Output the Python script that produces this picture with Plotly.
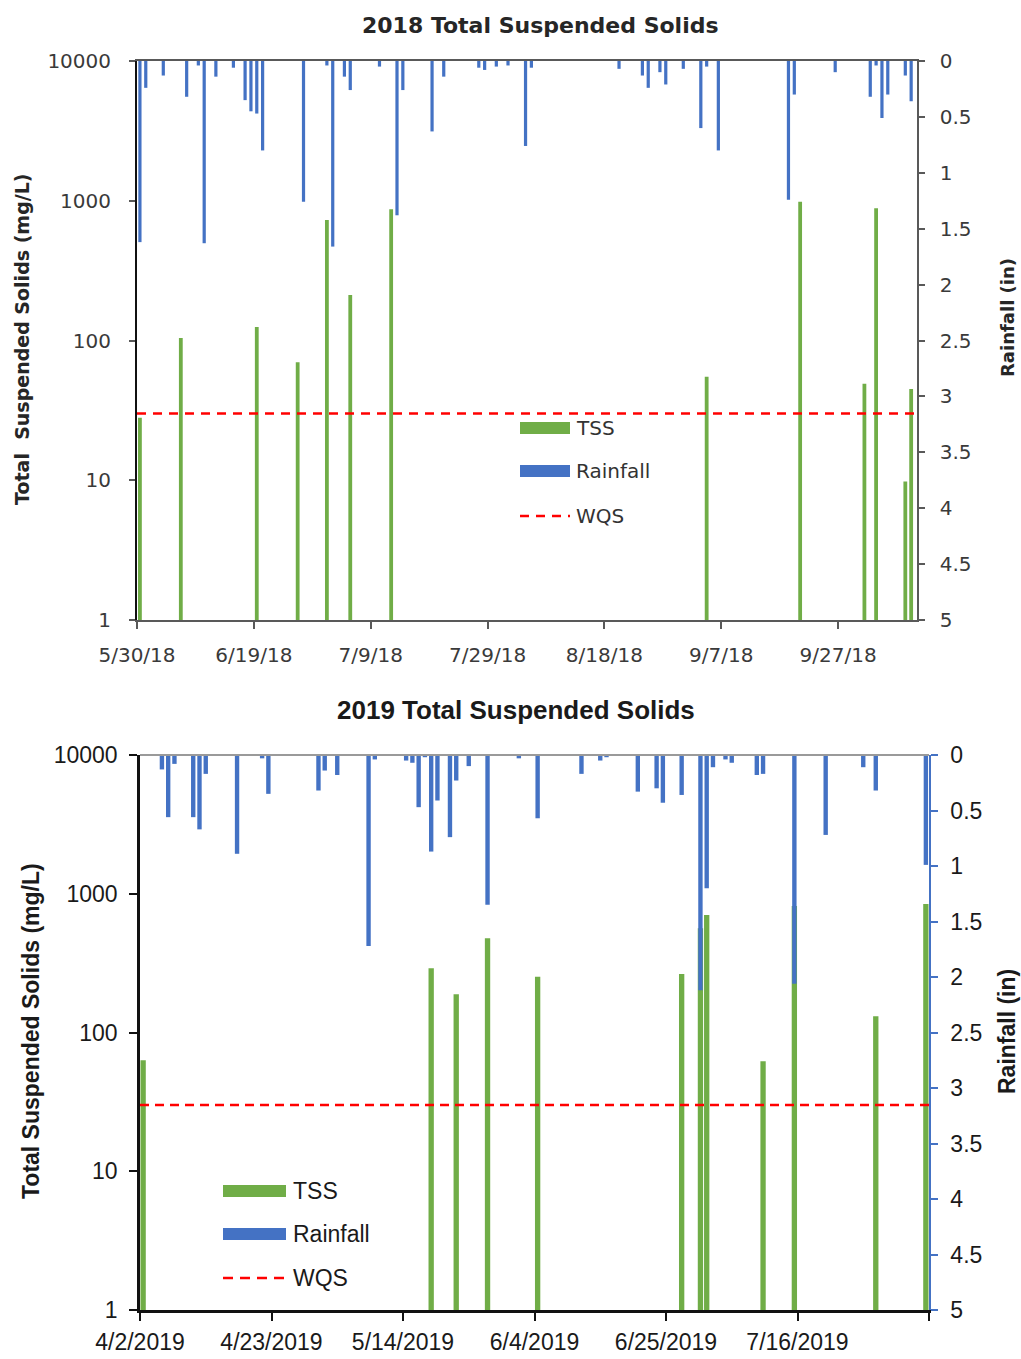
import plotly.graph_objects as go

W, H = 1021, 1359


def px(x):
    return x / W


def py(y):
    return 1 - y / H


GREEN = "#70AD47"
BLUE = "#4472C4"
RED = "#FF0000"
DAY_MS = 86400000

# ---------------- 2018 season ----------------
TSS_2018_DATES = [
    "2018-05-30", "2018-06-06", "2018-06-19", "2018-06-26", "2018-07-01",
    "2018-07-05", "2018-07-12", "2018-09-04", "2018-09-20", "2018-10-01",
    "2018-10-03", "2018-10-08", "2018-10-09",
]
TSS_2018_MGL = [28, 104, 125, 70, 728, 212, 868, 55, 985, 49, 883, 9.8, 45]

RAIN_2018_DATES = [
    "2018-05-30", "2018-05-31", "2018-06-03", "2018-06-07", "2018-06-09",
    "2018-06-10", "2018-06-12", "2018-06-15", "2018-06-17", "2018-06-18",
    "2018-06-19", "2018-06-20", "2018-06-27", "2018-07-01", "2018-07-02",
    "2018-07-04", "2018-07-05", "2018-07-10", "2018-07-13", "2018-07-14",
    "2018-07-19", "2018-07-21", "2018-07-27", "2018-07-28", "2018-07-30",
    "2018-08-01", "2018-08-04", "2018-08-05", "2018-08-20", "2018-08-24",
    "2018-08-25", "2018-08-27", "2018-08-28", "2018-08-31", "2018-09-03",
    "2018-09-04", "2018-09-06", "2018-09-18", "2018-09-19", "2018-09-26",
    "2018-10-02", "2018-10-03", "2018-10-04", "2018-10-05", "2018-10-08",
    "2018-10-09",
]
RAIN_2018_IN = [
    1.62, 0.24, 0.13, 0.32, 0.04,
    1.63, 0.14, 0.06, 0.35, 0.45,
    0.47, 0.80, 1.26, 0.04, 1.66,
    0.14, 0.26, 0.05, 1.38, 0.26,
    0.63, 0.14, 0.06, 0.08, 0.05,
    0.04, 0.76, 0.06, 0.07, 0.13,
    0.24, 0.10, 0.21, 0.07, 0.60,
    0.05, 0.80, 1.24, 0.30, 0.10,
    0.32, 0.04, 0.51, 0.30, 0.13,
    0.36,
]

X2018_RANGE = ["2018-05-30", "2018-10-10 12:00"]
X2018_TICKS = ["2018-05-30", "2018-06-19", "2018-07-09", "2018-07-29",
               "2018-08-18", "2018-09-07", "2018-09-27"]
X2018_LABELS = ["5/30/18", "6/19/18", "7/9/18", "7/29/18",
                "8/18/18", "9/7/18", "9/27/18"]

# ---------------- 2019 season ----------------
TSS_2019_DATES = [
    "2019-04-02", "2019-05-18", "2019-05-22", "2019-05-27", "2019-06-04",
    "2019-06-27", "2019-06-30", "2019-07-01", "2019-07-10", "2019-07-15",
    "2019-07-28", "2019-08-05",
]
TSS_2019_MGL = [63, 290, 189, 477, 252, 264, 563, 703, 62, 816, 131, 844]

RAIN_2019_DATES = [
    "2019-04-05", "2019-04-06", "2019-04-07", "2019-04-10", "2019-04-11",
    "2019-04-12", "2019-04-17", "2019-04-21", "2019-04-22", "2019-04-30",
    "2019-05-01", "2019-05-03", "2019-05-08", "2019-05-09", "2019-05-14",
    "2019-05-15", "2019-05-16", "2019-05-17", "2019-05-18", "2019-05-19",
    "2019-05-21", "2019-05-22", "2019-05-24", "2019-05-27", "2019-06-01",
    "2019-06-04", "2019-06-11", "2019-06-14", "2019-06-15", "2019-06-20",
    "2019-06-23", "2019-06-24", "2019-06-27", "2019-06-30", "2019-07-01",
    "2019-07-02", "2019-07-04", "2019-07-05", "2019-07-09", "2019-07-10",
    "2019-07-15", "2019-07-20", "2019-07-26", "2019-07-28", "2019-08-05",
]
RAIN_2019_IN = [
    0.13, 0.56, 0.08, 0.56, 0.67,
    0.17, 0.89, 0.03, 0.35, 0.32,
    0.14, 0.18, 1.72, 0.04, 0.05,
    0.07, 0.47, 0.02, 0.87, 0.41,
    0.74, 0.23, 0.10, 1.35, 0.03,
    0.57, 0.17, 0.05, 0.02, 0.33,
    0.30, 0.43, 0.36, 2.12, 1.20,
    0.11, 0.04, 0.07, 0.18, 0.17,
    2.06, 0.72, 0.11, 0.32, 0.99,
]

X2019_RANGE = ["2019-04-02", "2019-08-06"]
X2019_TICKS = ["2019-04-02", "2019-04-23", "2019-05-14", "2019-06-04",
               "2019-06-25", "2019-07-16", "2019-08-06"]
X2019_LABELS = ["4/2/2019", "4/23/2019", "5/14/2019", "6/4/2019",
                "6/25/2019", "7/16/2019", ""]

# water quality standard for TSS (mg/L)
WQS_MGL = 30

LOG_TICKS = [1, 10, 100, 1000, 10000]
LOG_LABELS = ["1", "10", "100", "1000", "10000"]
RAIN_TICKS = [0, 0.5, 1, 1.5, 2, 2.5, 3, 3.5, 4, 4.5, 5]
RAIN_LABELS = ["0", "0.5", "1", "1.5", "2", "2.5", "3", "3.5", "4", "4.5", "5"]

TOP_FONT = "DejaVu Sans"
BOT_FONT = "Liberation Sans, Arial"

fig = go.Figure()

# ---- 2018 panel ----
fig.add_trace(go.Bar(
    x=TSS_2018_DATES, y=TSS_2018_MGL, xaxis="x", yaxis="y",
    marker=dict(color=GREEN, line=dict(width=0)),
    width=0.65 * DAY_MS, xperiod=DAY_MS, xperiodalignment="middle",
    name="TSS", showlegend=False,
))
fig.add_trace(go.Scatter(
    x=X2018_RANGE, y=[WQS_MGL, WQS_MGL], xaxis="x", yaxis="y",
    mode="lines", line=dict(color=RED, width=2.5, dash="9px,7px"),
    name="WQS", showlegend=False,
))
fig.add_trace(go.Bar(
    x=RAIN_2018_DATES, y=RAIN_2018_IN, xaxis="x", yaxis="y2",
    marker=dict(color=BLUE, line=dict(width=0)),
    width=0.55 * DAY_MS, xperiod=DAY_MS, xperiodalignment="middle",
    name="Rainfall", showlegend=False,
))

# ---- 2019 panel ----
fig.add_trace(go.Bar(
    x=TSS_2019_DATES, y=TSS_2019_MGL, xaxis="x2", yaxis="y3",
    marker=dict(color=GREEN, line=dict(width=0)),
    width=0.85 * DAY_MS, xperiod=DAY_MS, xperiodalignment="middle",
    name="TSS", showlegend=False,
))
fig.add_trace(go.Scatter(
    x=X2019_RANGE, y=[WQS_MGL, WQS_MGL], xaxis="x2", yaxis="y3",
    mode="lines", line=dict(color=RED, width=2.5, dash="9px,6px"),
    name="WQS", showlegend=False,
))
fig.add_trace(go.Bar(
    x=RAIN_2019_DATES, y=RAIN_2019_IN, xaxis="x2", yaxis="y4",
    marker=dict(color=BLUE, line=dict(width=0)),
    width=0.7 * DAY_MS, xperiod=DAY_MS, xperiodalignment="middle",
    name="Rainfall", showlegend=False,
))

top_tick_font = dict(family=TOP_FONT, size=20, color="#3a3a3a")
bot_tick_font = dict(family=BOT_FONT, size=23, color="#1a1a1a")

fig.update_layout(
    template="none",
    width=W, height=H,
    margin=dict(l=0, r=0, t=0, b=0, autoexpand=False),
    paper_bgcolor="white", plot_bgcolor="white",
    barmode="overlay", showlegend=False,
    xaxis=dict(
        domain=[px(137), px(917)], anchor="y", type="date", range=X2018_RANGE,
        tickmode="array", tickvals=X2018_TICKS, ticktext=X2018_LABELS,
        showline=True, mirror=True, linecolor="#595959", linewidth=1.5,
        ticks="outside", ticklen=7, tickcolor="#595959", tickwidth=1.5,
        tickfont=top_tick_font, ticklabelstandoff=9, automargin=False,
        showgrid=False, zeroline=False,
    ),
    yaxis=dict(
        domain=[py(620), py(61)], anchor="x", type="log", range=[0, 4],
        tickmode="array", tickvals=LOG_TICKS, ticktext=LOG_LABELS,
        showline=True, linecolor="#111111", linewidth=2,
        ticks="outside", ticklen=6, tickcolor="#595959", tickwidth=1.5,
        tickfont=top_tick_font, ticklabelstandoff=14, automargin=False,
        showgrid=False, zeroline=False,
    ),
    yaxis2=dict(
        overlaying="y", anchor="x", side="right", range=[5, 0],
        tickmode="array", tickvals=RAIN_TICKS, ticktext=RAIN_LABELS,
        showline=True, linecolor="#595959", linewidth=1.5,
        ticks="outside", ticklen=6, tickcolor="#595959", tickwidth=1.5,
        tickfont=top_tick_font, ticklabelstandoff=11, automargin=False,
        showgrid=False, zeroline=False,
    ),
    xaxis2=dict(
        domain=[px(140), px(929)], anchor="y3", type="date", range=X2019_RANGE,
        tickmode="array", tickvals=X2019_TICKS, ticktext=X2019_LABELS,
        showline=True, linecolor="#111111", linewidth=2.5,
        ticks="outside", ticklen=8, tickcolor="#111111", tickwidth=2,
        tickfont=bot_tick_font, ticklabelstandoff=2, automargin=False,
        showgrid=False, zeroline=False,
    ),
    yaxis3=dict(
        domain=[py(1310), py(755)], anchor="x2", type="log", range=[0, 4],
        tickmode="array", tickvals=LOG_TICKS, ticktext=LOG_LABELS,
        showline=True, linecolor="#111111", linewidth=2.5,
        ticks="outside", ticklen=8, tickcolor="#111111", tickwidth=2,
        tickfont=bot_tick_font, ticklabelstandoff=7, automargin=False,
        showgrid=False, zeroline=False,
    ),
    yaxis4=dict(
        overlaying="y3", anchor="x2", side="right", range=[5, 0],
        tickmode="array", tickvals=RAIN_TICKS, ticktext=RAIN_LABELS,
        showline=True, linecolor=BLUE, linewidth=1.5,
        ticks="outside", ticklen=7, tickcolor=BLUE, tickwidth=1.5,
        tickfont=bot_tick_font, ticklabelstandoff=8, automargin=False,
        showgrid=False, zeroline=False,
    ),
)

shapes = [
    # top edge of the 2019 plot area
    dict(type="line", xref="paper", yref="paper",
         x0=px(140), x1=px(929), y0=py(755), y1=py(755),
         line=dict(color="#9a9a9a", width=2)),
]


def legend_block(x0, x1, x_text, ys, font, dash):
    """Swatches and labels for TSS / Rainfall / WQS."""
    items = []
    notes = []
    for (label, kind, color), y in zip(
            [("TSS", "bar", GREEN), ("Rainfall", "bar", BLUE), ("WQS", "line", RED)], ys):
        if kind == "bar":
            items.append(dict(type="rect", xref="paper", yref="paper",
                              x0=px(x0), x1=px(x1), y0=py(y - 6), y1=py(y + 6),
                              fillcolor=color, line=dict(width=0)))
        else:
            items.append(dict(type="line", xref="paper", yref="paper",
                              x0=px(x0), x1=px(x1), y0=py(y), y1=py(y),
                              line=dict(color=color, width=2.5, dash=dash)))
        notes.append(dict(xref="paper", yref="paper", x=px(x_text), y=py(y),
                          xanchor="left", yanchor="middle", showarrow=False,
                          text=label, font=font))
    return items, notes


leg1_shapes, leg1_notes = legend_block(
    520, 570, 574, [428, 471, 516],
    dict(family=TOP_FONT, size=20, color="#333333"), "9px,7px")
leg2_shapes, leg2_notes = legend_block(
    223, 286, 291, [1191, 1234, 1278],
    dict(family=BOT_FONT, size=23, color="#1a1a1a"), "10px,7px")
shapes += leg1_shapes + leg2_shapes

annotations = leg1_notes + leg2_notes + [
    dict(xref="paper", yref="paper", x=px(540), y=py(25),
         xanchor="center", yanchor="middle", showarrow=False,
         text="<b>2018 Total Suspended Solids</b>",
         font=dict(family=TOP_FONT, size=22, color="#262626")),
    dict(xref="paper", yref="paper", x=px(22), y=py(340),
         xanchor="center", yanchor="middle", showarrow=False, textangle=-90,
         text="<b>Total\u00a0 Suspended Solids (mg/L)</b>",
         font=dict(family=TOP_FONT, size=19, color="#262626")),
    dict(xref="paper", yref="paper", x=px(1008), y=py(318),
         xanchor="center", yanchor="middle", showarrow=False, textangle=-90,
         text="<b>Rainfall (in)</b>",
         font=dict(family=TOP_FONT, size=18, color="#262626")),
    dict(xref="paper", yref="paper", x=px(516), y=py(710),
         xanchor="center", yanchor="middle", showarrow=False,
         text="<b>2019 Total Suspended Solids</b>",
         font=dict(family=BOT_FONT, size=26, color="#1a1a1a")),
    dict(xref="paper", yref="paper", x=px(31), y=py(1031),
         xanchor="center", yanchor="middle", showarrow=False, textangle=-90,
         text="<b>Total Suspended Solids (mg/L)</b>",
         font=dict(family=BOT_FONT, size=23, color="#1a1a1a")),
    dict(xref="paper", yref="paper", x=px(1007), y=py(1032),
         xanchor="center", yanchor="middle", showarrow=False, textangle=-90,
         text="<b>Rainfall (in)</b>",
         font=dict(family=BOT_FONT, size=23, color="#1a1a1a")),
]

fig.update_layout(shapes=shapes, annotations=annotations)

fig.write_html("out.html")
